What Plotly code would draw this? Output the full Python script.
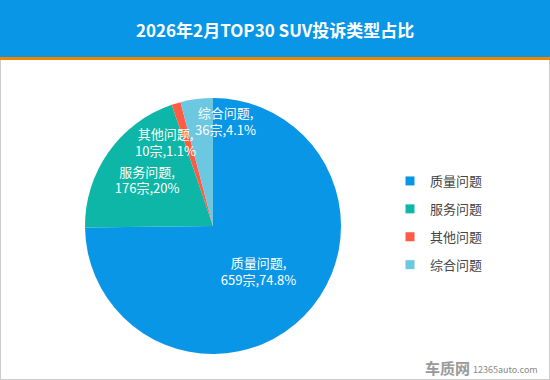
import plotly.graph_objects as go

categories = ["质量问题", "服务问题", "其他问题", "综合问题"]
counts = [659, 176, 10, 36]
percents = ["74.8%", "20%", "1.1%", "4.1%"]
colors = ["#0A96E6", "#0DB6A6", "#FF5B45", "#6BC8E0"]
title = "2026年2月TOP30 SUV投诉类型占比"

W, H = 550, 380
FONT = "Noto Sans CJK SC"

texts = [f"{c},<br>{n}宗,{p}" for c, n, p in zip(categories, counts, percents)]
# small slices: their labels are drawn as annotations (placed over the pie)
small = {2: (165, 142), 3: (225, 121)}
text_pos = ["none" if i in small else "inside" for i in range(len(categories))]

fig = go.Figure()
fig.add_trace(go.Pie(
    labels=categories, values=counts, text=texts,
    textinfo="text", textposition=text_pos, insidetextorientation="horizontal",
    textfont=dict(color="white", size=13, family=FONT),
    marker=dict(colors=colors, line=dict(width=0)),
    sort=False, direction="clockwise", rotation=0,
    domain=dict(x=[85 / W, 341 / W], y=[(380 - 354) / H, (380 - 98) / H]),
    showlegend=False, hoverinfo="label+value+percent",
))

# legend entries via marker-only traces (one group each for spacing)
for c, col in zip(categories, colors):
    fig.add_trace(go.Scatter(
        x=[None], y=[None], mode="markers", name=c, legendgroup=c,
        marker=dict(symbol="square", size=9, color=col),
    ))

annotations = [
    dict(text=f"<b>{title}</b>", x=0.5, y=1 - 29 / H, xref="paper", yref="paper",
         showarrow=False, font=dict(size=17, color="white", family=FONT),
         xanchor="center", yanchor="middle"),
    dict(text="<b>车质网</b>", x=1 - 78 / W, y=13 / H, xref="paper", yref="paper",
         showarrow=False, font=dict(size=15, color="#999999", family=FONT),
         xanchor="right", yanchor="middle"),
    dict(text="12365auto.com", x=1 - 10 / W, y=11 / H, xref="paper", yref="paper",
         showarrow=False, font=dict(size=9, color="#888888", family=FONT),
         xanchor="right", yanchor="middle"),
]
for i, (px, py) in small.items():
    annotations.append(dict(
        text=texts[i], x=px / W, y=1 - py / H, xref="paper", yref="paper",
        showarrow=False, font=dict(size=13, color="white", family=FONT),
        xanchor="center", yanchor="middle", align="center",
    ))

hdr = 57 / H
fig.update_layout(
    width=W, height=H,
    margin=dict(l=0, r=0, t=0, b=0),
    paper_bgcolor="white", plot_bgcolor="white",
    xaxis=dict(visible=False), yaxis=dict(visible=False),
    font=dict(family=FONT),
    uniformtext=dict(minsize=13, mode="show"),
    legend=dict(
        x=390 / W, y=1 - 166 / H, xanchor="left", yanchor="top",
        font=dict(size=13, color="#444444", family=FONT),
        tracegroupgap=8, itemwidth=30, bgcolor="rgba(0,0,0,0)",
    ),
    shapes=[
        dict(type="rect", xref="paper", yref="paper", x0=0, x1=1, y0=1 - hdr, y1=1,
             fillcolor="#0A96E6", line=dict(width=0), layer="below"),
        dict(type="rect", xref="paper", yref="paper", x0=0, x1=1, y0=1 - 60 / H, y1=1 - hdr,
             fillcolor="#F08300", line=dict(width=0), layer="below"),
        dict(type="line", xref="paper", yref="paper", x0=0.5 / W, x1=0.5 / W, y0=0, y1=1 - 60 / H,
             line=dict(color="#CCCCCC", width=1)),
        dict(type="line", xref="paper", yref="paper", x0=1 - 0.5 / W, x1=1 - 0.5 / W, y0=0, y1=1 - 60 / H,
             line=dict(color="#CCCCCC", width=1)),
        dict(type="line", xref="paper", yref="paper", x0=0, x1=1, y0=0.5 / H, y1=0.5 / H,
             line=dict(color="#CCCCCC", width=1)),
    ],
    annotations=annotations,
)

fig.write_html("out.html", config={"displayModeBar": False},
               post_script="document.body.style.margin='0';")
